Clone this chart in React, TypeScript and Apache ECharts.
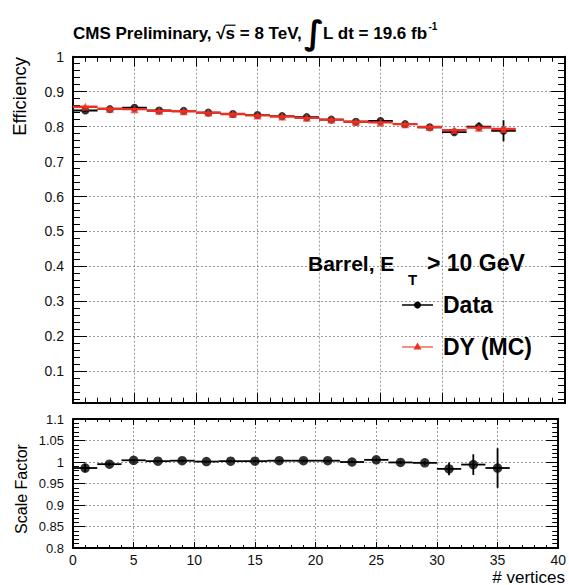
import React, { useEffect, useRef } from 'react';
import * as echarts from 'echarts';

// ---- data ----
const vertices = [1, 3, 5, 7, 9, 11, 13, 15, 17, 19, 21, 23, 25, 27, 29, 31, 33, 35];
const dataEff = [0.846, 0.850, 0.854, 0.846, 0.845, 0.840, 0.836, 0.833, 0.830, 0.827, 0.820, 0.814, 0.816, 0.807, 0.798, 0.784, 0.800, 0.788];
const dataErr = [0.004, 0.002, 0.001, 0.001, 0.001, 0.001, 0.001, 0.001, 0.001, 0.001, 0.001, 0.002, 0.002, 0.003, 0.004, 0.007, 0.012, 0.030];
const mcEff = [0.857, 0.851, 0.850, 0.845, 0.844, 0.840, 0.836, 0.832, 0.829, 0.825, 0.820, 0.814, 0.812, 0.807, 0.799, 0.790, 0.797, 0.793];
const mcErr = [0.002, 0.001, 0.001, 0.001, 0.001, 0.001, 0.001, 0.001, 0.001, 0.001, 0.001, 0.001, 0.001, 0.002, 0.002, 0.003, 0.004, 0.006];
const scaleFactor = [0.986, 0.995, 1.004, 1.002, 1.003, 1.001, 1.002, 1.002, 1.003, 1.003, 1.003, 1.000, 1.005, 0.999, 0.998, 0.984, 0.994, 0.986];
const scaleFactorErr = [0.01, 0.004, 0.003, 0.002, 0.002, 0.002, 0.002, 0.002, 0.002, 0.002, 0.002, 0.003, 0.003, 0.004, 0.005, 0.015, 0.024, 0.046];
const binHalfWidth = 1;

const xRange = { min: 0, max: 40, interval: 5 };
const effRange = { min: 0, max: 1, interval: 0.1 };
const sfRange = { min: 0.8, max: 1.1, interval: 0.05 };

const titleHead = 'CMS Preliminary, \u221A';
const titleS = 's';
const titleTail = ' = 8 TeV,';
const titleLumi = 'L dt = 19.6 fb';
const legendData = 'Data';
const legendMC = 'DY (MC)';

const FONT = "'Liberation Sans', Arial, Helvetica, sans-serif";
const RED = '#ee2f22';
const BLACK = '#000';
const GRID_COLOR = '#9a9a9a';

let measureCtx: CanvasRenderingContext2D | null = null;
function textWidth(text: string, size: number, weight = 'bold', family = FONT) {
  if (!measureCtx) measureCtx = document.createElement('canvas').getContext('2d');
  if (!measureCtx) return text.length * size * 0.55;
  measureCtx.font = `${weight} ${size}px ${family}`;
  return measureCtx.measureText(text).width;
}

function errorBars(color: string, width: number) {
  return (params: any, api: any) => {
    const x = api.value(0);
    const y = api.value(1);
    const e = api.value(2);
    const l = api.coord([x - binHalfWidth, y]);
    const r = api.coord([x + binHalfWidth, y]);
    const t = api.coord([x, y + e]);
    const b = api.coord([x, y - e]);
    const style = { stroke: color, lineWidth: width };
    return {
      type: 'group',
      children: [
        { type: 'line', shape: { x1: l[0], y1: l[1], x2: r[0], y2: r[1] }, style },
        { type: 'line', shape: { x1: t[0], y1: t[1], x2: b[0], y2: b[1] }, style },
      ],
    };
  };
}

function xAxisDef(gridIndex: number, position: 'top' | 'bottom', opts: any) {
  return {
    type: 'value',
    gridIndex,
    position,
    ...xRange,
    offset: opts.offset || 0,
    axisLine: { show: true, onZero: false, lineStyle: { color: BLACK, width: 2 } },
    axisTick: { show: true, inside: true, length: opts.tick, lineStyle: { color: BLACK, width: 1 } },
    minorTick: { show: true, splitNumber: 5, length: opts.minor, lineStyle: { color: BLACK, width: 1 } },
    axisLabel: opts.labels
      ? { show: true, margin: 5, color: '#111', fontFamily: FONT, fontSize: 14 }
      : { show: false },
    splitLine: { show: !!opts.grid, lineStyle: { color: GRID_COLOR, width: 1, type: [2, 2] } },
  };
}

function yAxisDef(gridIndex: number, position: 'left' | 'right', range: any, opts: any) {
  return {
    type: 'value',
    gridIndex,
    position,
    ...range,
    axisLine: { show: true, onZero: false, lineStyle: { color: BLACK, width: 2 } },
    axisTick: { show: true, inside: true, length: opts.tick, lineStyle: { color: BLACK, width: 1 } },
    minorTick: { show: true, splitNumber: 5, length: opts.minor, lineStyle: { color: BLACK, width: 1 } },
    axisLabel: opts.labels
      ? {
          show: true,
          margin: 9,
          color: '#111',
          fontFamily: FONT,
          fontSize: opts.fontSize,
          formatter: opts.formatter,
        }
      : { show: false },
    splitLine: { show: !!opts.grid, lineStyle: { color: GRID_COLOR, width: 1, type: [2, 2] } },
  };
}

function txt(text: string, x: number, y: number, size: number, extra: any = {}) {
  const { align = 'left', weight = 'bold', family = FONT, ...rest } = extra;
  return {
    type: 'text',
    z: 60,
    x,
    y,
    ...rest,
    style: {
      text,
      fontFamily: family,
      fontWeight: weight,
      fontSize: size,
      fill: '#000',
      align,
      verticalAlign: 'middle',
    },
  };
}

export default function App() {
  const ref = useRef<HTMLDivElement>(null);

  useEffect(() => {
    if (!ref.current) return;
    const chart = echarts.init(ref.current, null, { renderer: 'svg' });

    const effPts = vertices.map((v, i) => [v, dataEff[i], dataErr[i]]);
    const mcPts = vertices.map((v, i) => [v, mcEff[i], mcErr[i]]);
    const sfPts = vertices.map((v, i) => [v, scaleFactor[i], scaleFactorErr[i]]);

    // title layout
    const tSize = 17;
    const tX = 73;
    const sX = tX + textWidth(titleHead, tSize);
    const sW = textWidth(titleS, tSize);
    const title = titleHead + titleS + titleTail;

    const option: any = {
      animation: false,
      backgroundColor: '#fff',
      grid: [
        { left: 73, width: 492, top: 56.7, height: 349.5 },
        { left: 73, width: 492, top: 419, height: 129 },
      ],
      xAxis: [
        xAxisDef(0, 'bottom', { tick: 10, minor: 5, grid: true, offset: -3.5 }),
        xAxisDef(0, 'top', { tick: 10, minor: 5 }),
        xAxisDef(1, 'bottom', { tick: 6, minor: 3, grid: true, labels: true }),
        xAxisDef(1, 'top', { tick: 6, minor: 3 }),
      ],
      yAxis: [
        yAxisDef(0, 'left', effRange, {
          tick: 14,
          minor: 7,
          grid: true,
          labels: true,
          fontSize: 14,
          formatter: (v: number) => (Math.abs(v) < 1e-9 ? '' : String(Math.round(v * 10) / 10)),
        }),
        yAxisDef(0, 'right', effRange, { tick: 14, minor: 7 }),
        yAxisDef(1, 'left', sfRange, { tick: 12, minor: 6, grid: true, labels: true, fontSize: 13 }),
        yAxisDef(1, 'right', sfRange, { tick: 12, minor: 6 }),
      ],
      series: [
        {
          type: 'custom',
          name: 'Data errors',
          xAxisIndex: 0,
          yAxisIndex: 0,
          data: effPts,
          encode: { x: 0, y: 1 },
          renderItem: errorBars(BLACK, 1.8),
          clip: true,
          z: 3,
        },
        {
          type: 'scatter',
          name: legendData,
          xAxisIndex: 0,
          yAxisIndex: 0,
          data: effPts,
          symbol: 'circle',
          symbolSize: 8,
          itemStyle: { color: BLACK },
          z: 4,
        },
        {
          type: 'custom',
          name: 'MC errors',
          xAxisIndex: 0,
          yAxisIndex: 0,
          data: mcPts,
          encode: { x: 0, y: 1 },
          renderItem: errorBars(RED, 2.4),
          clip: true,
          z: 5,
        },
        {
          type: 'scatter',
          name: legendMC,
          xAxisIndex: 0,
          yAxisIndex: 0,
          data: mcPts,
          symbol: 'triangle',
          symbolSize: 8,
          itemStyle: { color: RED },
          z: 6,
        },
        {
          type: 'custom',
          name: 'Scale factor errors',
          xAxisIndex: 2,
          yAxisIndex: 2,
          data: sfPts,
          encode: { x: 0, y: 1 },
          renderItem: errorBars(BLACK, 1.8),
          clip: true,
          z: 3,
        },
        {
          type: 'scatter',
          name: 'Scale Factor',
          xAxisIndex: 2,
          yAxisIndex: 2,
          data: sfPts,
          symbol: 'circle',
          symbolSize: 9.5,
          itemStyle: { color: BLACK },
          z: 4,
        },
      ],
      graphic: [
        // white gap between the two pads
        {
          type: 'rect',
          z: 50,
          shape: { x: 71, y: 403.9, width: 498, height: 13.9 },
          style: { fill: '#fff' },
          silent: true,
        },
        // title
        txt(title, tX, 33, tSize),
        {
          type: 'line',
          z: 60,
          shape: { x1: sX - 0.5, y1: 25.2, x2: sX + sW + 0.5, y2: 25.2 },
          style: { stroke: '#000', lineWidth: 1.2 },
        },
        txt('\u222B', 304, 32, 33, { family: "'DejaVu Sans', sans-serif" }),
        txt(titleLumi, 323, 33, 17),
        txt('-1', 323 + textWidth(titleLumi, 17) + 1, 26, 10),
        // axis titles
        txt('Efficiency', 19, 57, 18.5, { weight: 'normal', align: 'right', rotation: Math.PI / 2 }),
        txt('Scale Factor', 21, 489, 16, { weight: 'normal', align: 'center', rotation: Math.PI / 2 }),
        txt('# vertices', 565, 577, 17, { weight: 'normal', align: 'right' }),
        // selection label: Barrel, E_T > 10 GeV
        txt('Barrel, E', 308, 263, 21),
        txt('T', 408, 279, 15),
        txt('> 10 GeV', 427, 263, 23),
        // legend: Data
        {
          type: 'line',
          z: 60,
          shape: { x1: 402, y1: 305, x2: 433, y2: 305 },
          style: { stroke: BLACK, lineWidth: 1.5 },
        },
        {
          type: 'circle',
          z: 61,
          shape: { cx: 417.5, cy: 305, r: 3.5 },
          style: { fill: BLACK },
        },
        txt(legendData, 443, 305, 23),
        // legend: MC
        {
          type: 'line',
          z: 60,
          shape: { x1: 402, y1: 347, x2: 433, y2: 347 },
          style: { stroke: '#f26a5e', lineWidth: 1.5 },
        },
        {
          type: 'polygon',
          z: 61,
          shape: { points: [[417.5, 342.5], [421.5, 349.5], [413.5, 349.5]] },
          style: { fill: RED },
        },
        txt(legendMC, 443, 347, 23),
      ],
    };

    chart.setOption(option);
    return () => chart.dispose();
  }, []);

  return (
    <div
      ref={ref}
      style={{ position: 'fixed', left: 0, top: 0, width: 569, height: 585, background: '#fff' }}
    />
  );
}
